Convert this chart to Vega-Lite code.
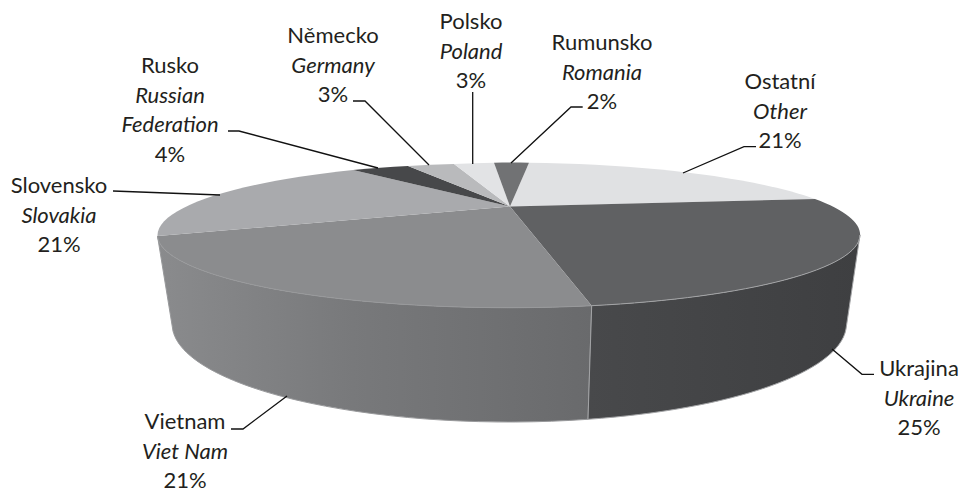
{"$schema":"https://vega.github.io/schema/vega-lite/v6.json","width":964,"height":490,"autosize":{"type":"fit","contains":"padding"},"padding":0,"background":"white","config":{"view":{"stroke":null}},
"data":{"values":[
{"order":1,"cs":"Ostatní","en":"Other","share":21},
{"order":2,"cs":"Ukrajina","en":"Ukraine","share":25},
{"order":3,"cs":"Vietnam","en":"Viet Nam","share":21},
{"order":4,"cs":"Slovensko","en":"Slovakia","share":21},
{"order":5,"cs":"Rusko","en":"Russian\nFederation","share":4},
{"order":6,"cs":"Německo","en":"Germany","share":3},
{"order":7,"cs":"Polsko","en":"Poland","share":3},
{"order":8,"cs":"Rumunsko","en":"Romania","share":2}]},
"transform":[{"calculate":"datum.share + '%'","as":"pct"}],
"resolve":{"scale":{"shape":"independent"}},
"layer":[
{"mark":{"type":"point","filled":true,"size":4,"opacity":1,"fillOpacity":1},
 "encoding":{
  "shape":{"field":"cs","type":"nominal","legend":null,"scale":{"domain":["Ostatní","Ukrajina","Vietnam","Slovensko","Rusko","Německo","Polsko","Rumunsko"],"range":[
   "M28 -37.5L47 -81.3A352 73 0 0 1 333 -45Z",
   "M28 -37.5L333 -45A352 73 0 0 1 109.7 61.7Z",
   "M28 -37.5L109.7 61.7A352 73 0 0 1 -324.5 -8Z",
   "M28 -37.5L-324.5 -8A352 73 0 0 1 -129 -74Z",
   "M28 -37.5L-129 -74A352 73 0 0 1 -74 -78Z",
   "M28 -37.5L-74 -78A352 73 0 0 1 -28 -80Z",
   "M28 -37.5L-28 -80A352 73 0 0 1 12 -81.3Z",
   "M28 -37.5L12 -81.3A352 73 0 0 1 47 -81.3Z"]}},
  "color":{"field":"cs","type":"nominal","legend":null,"scale":{"domain":["Ostatní","Ukrajina","Vietnam","Slovensko","Rusko","Německo","Polsko","Rumunsko"],"range":["#e0e1e3","#606163","#8b8c8e","#a9aaad","#47484a","#b9babc","#e2e3e5","#717274"]}}}},
{"transform":[{"filter":"datum.cs==='Vietnam'"}],
 "mark":{"type":"point","filled":true,"size":4,"opacity":1,"shape":"M-324.5 -8A352 73 0 0 0 109.7 61.7L106 175.3A337 98 0 0 1 -309 87Z","stroke":"#98999b","strokeWidth":1,
  "fill":{"gradient":"linear","x1":0,"y1":0,"x2":1,"y2":0,"stops":[{"offset":0,"color":"#8a8b8d"},{"offset":0.45,"color":"#78797b"},{"offset":1,"color":"#696a6c"}]}}},
{"transform":[{"filter":"datum.cs==='Ukrajina'"}],
 "mark":{"type":"point","filled":true,"size":4,"opacity":1,"shape":"M109.7 61.7A352 73 0 0 0 378 -9L364 85A337 98 0 0 1 106 175.3Z","stroke":"#a3a4a6","strokeWidth":1,
  "fill":{"gradient":"linear","x1":0,"y1":0,"x2":1,"y2":0,"stops":[{"offset":0,"color":"#48494b"},{"offset":1,"color":"#3e3f41"}]}}},
{"mark":{"type":"point","filled":false,"size":4,"opacity":1,"stroke":"#111111","strokeWidth":1.3},
 "encoding":{"shape":{"field":"order","type":"nominal","legend":null,"scale":{"domain":[1,2,3,4,5,6,7,8],"range":[
   "M274 -97.3L262 -97.3L201 -71",
   "M392 130.3L380 130.3L350 105",
   "M-251 185L-239 185L-195 152",
   "M-369 -53L-262 -49",
   "M-254 -113L-243 -113L-104 -76",
   "M-129 -143L-117 -143L-53 -79",
   "M-9.3 -152L-9.3 -80",
   "M100.7 -137L89 -137L29 -81"]}}}},
{"mark":{"type":"text","font":"Lato","fontSize":22,"color":"#231f20","align":"center","baseline":"alphabetic"},
 "encoding":{"text":{"field":"cs"},
  "x":{"field":"order","type":"quantitative","axis":null,"scale":{"domain":[1,2,3,4,5,6,7,8],"range":[780,919,185,59,170,333,471,602],"zero":false,"nice":false}},
  "y":{"field":"order","type":"quantitative","axis":null,"scale":{"domain":[1,2,3,4,5,6,7,8],"range":[89,376,429,193,73,43,29,50],"zero":false,"nice":false}}}},
{"mark":{"type":"text","font":"Lato","fontSize":22,"fontStyle":"italic","color":"#231f20","align":"center","baseline":"alphabetic","lineHeight":29.5,"lineBreak":"\n","dy":29.5},
 "encoding":{"text":{"field":"en"},
  "x":{"field":"order","type":"quantitative","axis":null},
  "y":{"field":"order","type":"quantitative","axis":null}}},
{"transform":[{"filter":"datum.cs!=='Rusko'"}],
 "mark":{"type":"text","font":"Lato","fontSize":22,"color":"#231f20","align":"center","baseline":"alphabetic","dy":59},
 "encoding":{"text":{"field":"pct"},
  "x":{"field":"order","type":"quantitative","axis":null},
  "y":{"field":"order","type":"quantitative","axis":null}}},
{"transform":[{"filter":"datum.cs==='Rusko'"}],
 "mark":{"type":"text","font":"Lato","fontSize":22,"color":"#231f20","align":"center","baseline":"alphabetic","dy":88.5},
 "encoding":{"text":{"field":"pct"},
  "x":{"field":"order","type":"quantitative","axis":null},
  "y":{"field":"order","type":"quantitative","axis":null}}}
]}
